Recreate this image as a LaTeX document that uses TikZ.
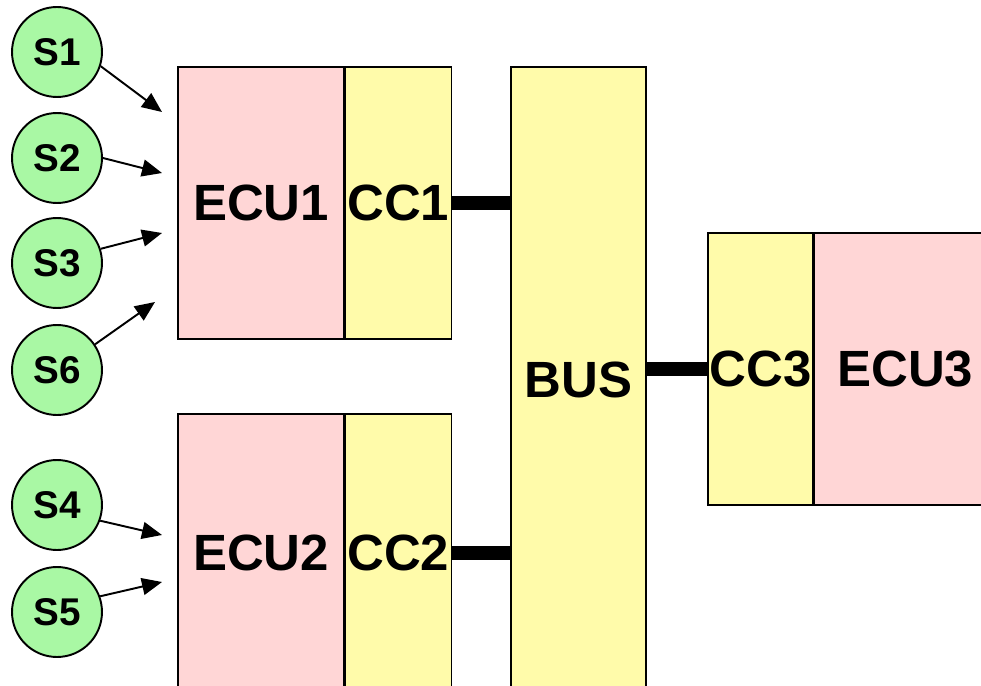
\documentclass[tikz,border=0pt]{standalone}
\usepackage{fontspec}
\setmainfont{Liberation Sans}
\usetikzlibrary{
	positioning,
	arrows.meta
}
\definecolor{ecucolor}{HTML}{FFD6D6}
\definecolor{cccolor}{HTML}{FFFBAA}
\definecolor{sensorcolor}{HTML}{A9F8A4}
\tikzset{
	ecunode/.style={
		draw=black,
		fill=ecucolor,
		line width=0.8pt,
		minimum width=3.32cm,
		minimum height=5.44cm,
		inner sep=0pt,
		font=\fontsize{29}{29}\selectfont\bfseries
	},
	ccnode/.style={
		ecunode,
		fill=cccolor,
		minimum width=2.12cm
	},
	busnode/.style={
		ccnode,
		minimum width=2.7cm,
		minimum height=12.52cm
	},
	sensornode/.style={
		circle,
		draw=black,
		fill=sensorcolor,
		line width=1.1pt,
		minimum size=1.8cm,
		inner sep=0pt,
		font=\fontsize{22}{22}\selectfont\bfseries
	},
	arrow/.style={
		-{Triangle[length=0.4cm,width=0.34cm]},
		line width=1.1pt
	},
	buslink/.style={
		line width=0.28cm
	}
}

\begin{document}
\begin{tikzpicture}[x=0.02cm, y=-0.02cm]
	\useasboundingbox (0,0) rectangle (981,686);
	\clip (0,0) rectangle (981,686);
	
	% ECU 1
	\node[ecunode] (ecu1) at (261,203) {ECU1};
	\node[ccnode, right=0pt of ecu1] (cc1) {CC1};
	
	% ECU 2
	\node[ecunode, minimum height=5.56cm] (ecu2) at (261,553) {ECU2};
	\node[ccnode, minimum height=5.56cm, right=0pt of ecu2] (cc2) {CC2};
	
	% bus
	\node[busnode] (bus) at (578.5,380) {BUS};
	
	% ECU 3
	\node[ccnode, minimum width=2.1cm] (cc3) at (760.5,369) {CC3};
	\node[ecunode, minimum width=3.64cm, right=0pt of cc3] (ecu3) {ECU3};
	
	% sensors
	\node[sensornode] (s1) at (57,52)  {S1};
	\node[sensornode] (s2) at (57,158) {S2};
	\node[sensornode] (s3) at (57,263) {S3};
	\node[sensornode] (s6) at (57,370) {S6};
	\node[sensornode] (s4) at (57,505) {S4};
	\node[sensornode] (s5) at (57,612) {S5};
	
	% arrow ends in front of the ECUs
	\coordinate (in1) at (162,112);
	\coordinate (in2) at (162,173);
	\coordinate (in3) at (162,233);
	\coordinate (in6) at (155,302);
	\coordinate (in4) at (162,535);
	\coordinate (in5) at (162,582);
	
	% sensor inputs
	\draw[arrow] (s1.-18) -- (in1);
	\draw[arrow] (s2.0)   -- (in2);
	\draw[arrow] (s3.18)  -- (in3);
	\draw[arrow] (s6.34)  -- (in6);
	\draw[arrow] (s4.-20) -- (in4);
	\draw[arrow] (s5.20)  -- (in5);
	
	% bus links
	\draw[buslink] (cc1.east) -- (cc1.east -| bus.west);
	\draw[buslink] (cc2.east) -- (cc2.east -| bus.west);
	\draw[buslink] (cc3.west -| bus.east) -- (cc3.west);
	
\end{tikzpicture}
\end{document}
